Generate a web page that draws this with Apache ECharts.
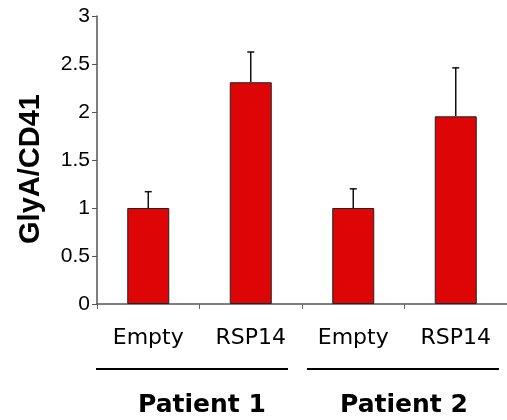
<!DOCTYPE html>
<html><head><meta charset="utf-8">
<script src="https://cdn.jsdelivr.net/npm/echarts@6/dist/echarts.min.js"></script>
<style>html,body{margin:0;padding:0;background:#fff}#c{width:507px;height:420px}</style>
</head><body><div id="c"></div>
<script>
const categories = ['Empty', 'RSP14', 'Empty', 'RSP14'];
const values = [1.0, 2.31, 1.0, 1.955];
const errorsUp = [0.17, 0.315, 0.20, 0.505];
const groups = ['Patient 1', 'Patient 2'];
const yTitle = 'GlyA/CD41';

const chart = echarts.init(document.getElementById('c'));
const errData = values.map((v, i) => [i, v, v + errorsUp[i]]);

chart.setOption({
  animation: false,
  backgroundColor: '#ffffff',
  grid: { left: 97, right: -2, top: 16, bottom: 116 },
  xAxis: {
    type: 'category', data: categories,
    axisLine: { lineStyle: { color: '#555', width: 1.5 } },
    axisTick: { show: true, length: 5, lineStyle: { color: '#666' } },
    axisLabel: { color: '#000', fontFamily: 'DejaVu Sans', fontSize: 22, margin: 23 }
  },
  yAxis: {
    type: 'value', min: 0, max: 3, interval: 0.5,
    splitLine: { show: false },
    axisLine: { show: true, lineStyle: { color: '#555', width: 1.5 } },
    axisTick: { show: true, length: 5, lineStyle: { color: '#555' } },
    axisLabel: { color: '#000', fontFamily: 'Liberation Sans', fontSize: 21, margin: 7,
      formatter: v => String(v) }
  },
  series: [
    {
      type: 'bar', data: values, barWidth: 42,
      itemStyle: { color: '#dd0505', borderColor: '#222', borderWidth: 1 }
    },
    {
      type: 'custom', data: errData, z: 1,
      renderItem: (params, api) => {
        const x = api.value(0);
        const lo = api.coord([x, api.value(1)]);
        const hi = api.coord([x, api.value(2)]);
        const style = { stroke: '#111', lineWidth: 1.5 };
        return { type: 'group', children: [
          { type: 'line', shape: { x1: lo[0], y1: lo[1], x2: hi[0], y2: hi[1] }, style },
          { type: 'line', shape: { x1: hi[0] - 3.5, y1: hi[1], x2: hi[0] + 3.5, y2: hi[1] }, style }
        ]};
      }
    }
  ],
  graphic: [
    { type: 'text', x: 31, y: 169, rotation: Math.PI / 2, style: { text: yTitle, fill: '#000', font: 'bold 29px "Liberation Sans"', textAlign: 'center', textVerticalAlign: 'middle' } },
    { type: 'line', shape: { x1: 96, y1: 369, x2: 288, y2: 369 }, style: { stroke: '#000', lineWidth: 2 } },
    { type: 'line', shape: { x1: 307, y1: 369, x2: 499, y2: 369 }, style: { stroke: '#000', lineWidth: 2 } },
    { type: 'text', x: 202, y: 405, style: { text: groups[0], fill: '#000', font: 'bold 25px "DejaVu Sans"', textAlign: 'center', textVerticalAlign: 'middle' } },
    { type: 'text', x: 404, y: 405, style: { text: groups[1], fill: '#000', font: 'bold 25px "DejaVu Sans"', textAlign: 'center', textVerticalAlign: 'middle' } }
  ]
});
</script></body></html>
